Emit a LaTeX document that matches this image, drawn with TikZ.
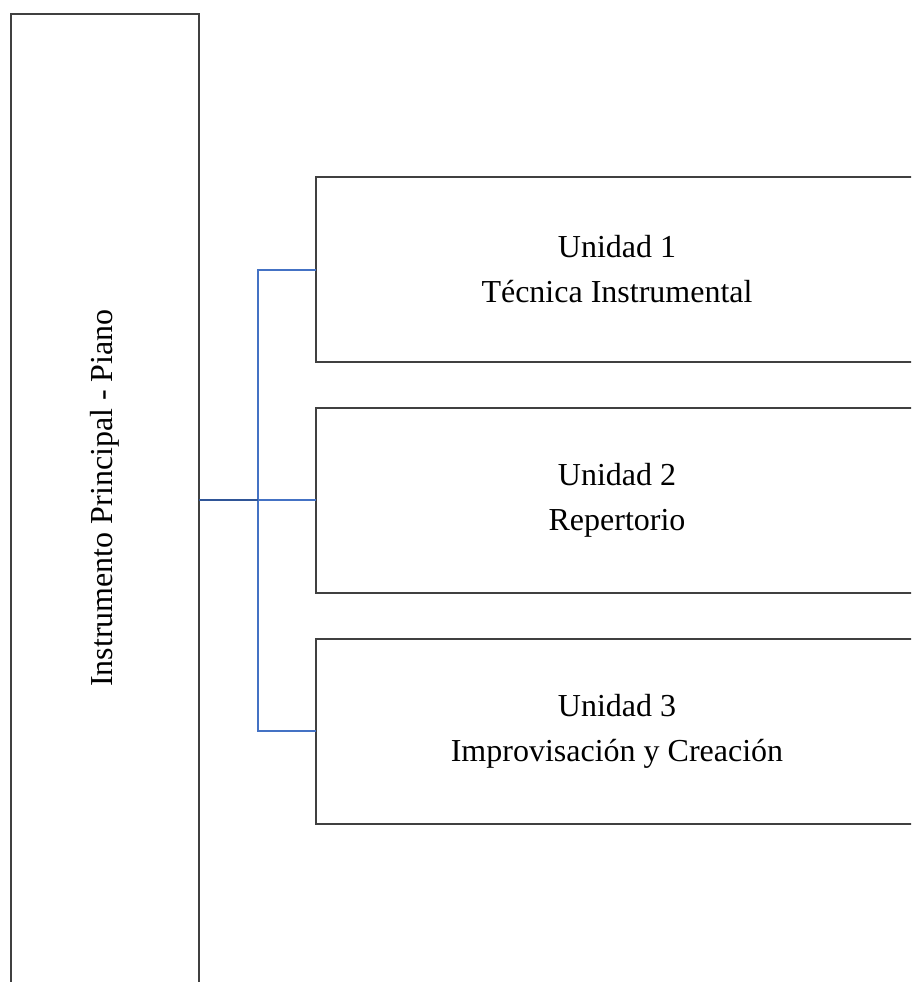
\documentclass[tikz,border=0pt]{standalone}
\usepackage{fontspec}
\setmainfont{Liberation Serif}
\definecolor{troncoazul}{HTML}{2F5597}
\definecolor{ramaazul}{HTML}{4472C4}
\definecolor{borde}{HTML}{404040}
\begin{document}
\begin{tikzpicture}[x=1pt,y=-1pt,
        caja/.style={draw=borde,line width=2pt,outer sep=0pt,inner sep=0pt},
        unidad/.style={caja,minimum width=602pt,minimum height=185pt,align=center,
            font=\fontsize{32}{45}\selectfont},
        tronco/.style={draw=troncoazul,line width=2pt},
        rama/.style={draw=ramaazul,line width=2pt}]
    \useasboundingbox (0,0) rectangle (911,982);
    \clip (0,0) rectangle (911,982);
    % bloque principal
    \node[caja,minimum width=188pt,minimum height=970pt] (principal) at (105,499) {};
    \node[rotate=90,font=\fontsize{32}{45}\selectfont] (titulo) at (105,498) {Instrumento Principal - Piano};
    % unidades
    \node[unidad] (u1) at (617,269.5) {Unidad 1\\Técnica Instrumental};
    \node[unidad] (u2) at (617,500) {Unidad 2\\Repertorio};
    \node[unidad] (u3) at (617,731) {Unidad 3\\Improvisación y Creación};
    % conectores
    \coordinate (bus) at (258,500);
    \draw[rama] (u1.west) -| (bus |- u3.west) -- (u3.west);
    \draw[rama] (bus) -- (u2.west);
    \draw[tronco] (principal.east |- bus) -- (bus);
\end{tikzpicture}
\end{document}
